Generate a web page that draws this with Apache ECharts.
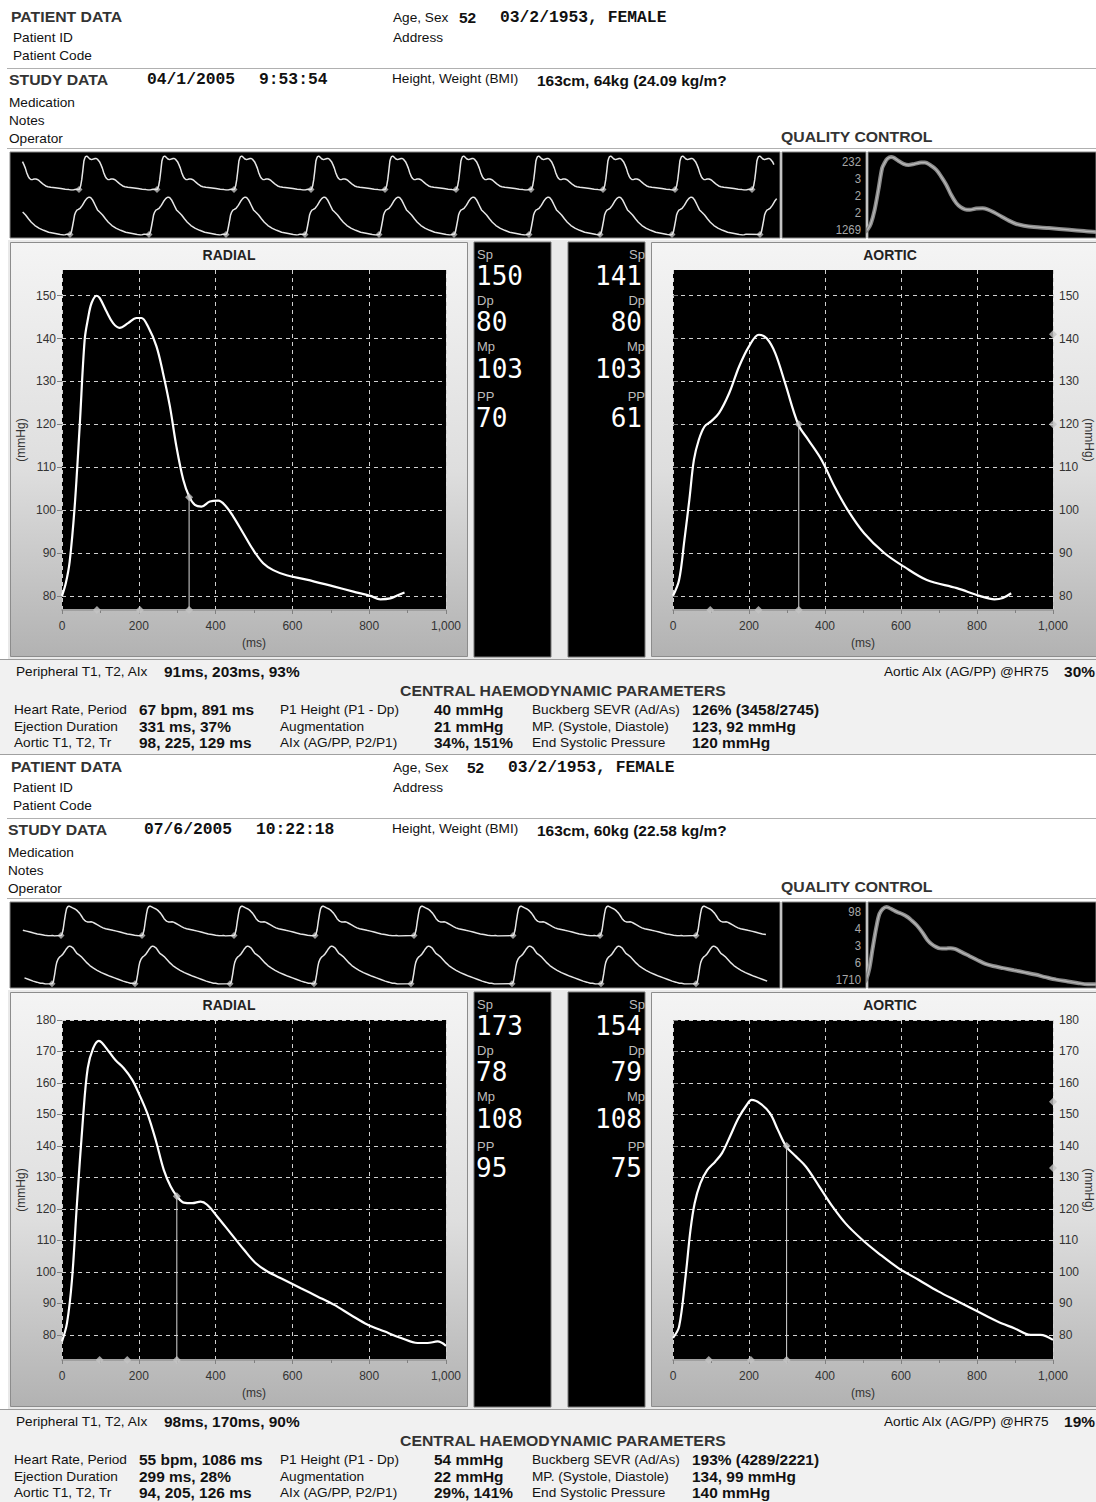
<!DOCTYPE html>
<html><head><meta charset="utf-8">
<script src="https://cdn.jsdelivr.net/npm/echarts@6/dist/echarts.min.js"></script>
<style>html,body{margin:0;padding:0;background:#fff}#c{width:1096px;height:1502px}</style>
</head><body><div id="c"></div><script>
// ---------- DATA ----------
const radial1X = [0,10,20,33,46,59,68,77,90,98,116,133,150,172,194,207,224,246,263,281,298,316,331,346,363,385,407,424,446,472,498,524,550,585,637,707,759,803,829,855,876,892];
const radial1Y = [80,83,88,100.8,119.5,139.7,144.8,148.3,150,149.5,146.3,143.6,142.5,143.6,144.8,144.8,142.8,138.2,132,124.2,114.8,107,103.2,101.2,100.8,102,102.2,101.2,98.5,94.6,90.7,87.6,86,84.8,83.8,82.2,81,80,79.2,79.4,80.2,80.8];
const aortic1X = [0,16,30,43,55,68,83,100,121,148,174,200,226,247,269,295,330,356,391,425,460,503,556,608,668,747,807,846,868,890];
const aortic1Y = [80,83.7,93,102.4,111.7,116.4,119.5,120.7,122.6,127.3,133.5,138.2,140.9,140,136.6,129.6,119.9,116.4,111.7,105.5,100,94.6,90,86.8,83.7,81.8,80,79.2,79.5,80.6];
const radial2X = [0,13,26,39,55,67,81,96,104,122,139,161,183,200,222,244,265,283,300,317,339,361,378,404,439,474,504,535,578,622,665,709,752,796,839,883,926,952,978,1000];
const radial2Y = [77.9,83.7,97.5,121.8,149.3,164.7,171,173.4,172.8,170,167.3,164.7,161,156.7,150.4,141.9,132.4,127.1,123.9,122,121.8,122.3,121.3,117.6,112.3,107,102.8,100.1,97.5,94.8,92.2,89.5,86.3,83.2,81.1,79,77.4,77.4,77.9,76.5];
const aortic2X = [0,16,33,46,57,72,90,111,129,150,172,194,207,229,255,276,298,324,350,385,420,454,498,541,593,646,698,750,802,854,898,941,967,1000];
const aortic2Y = [79,82.6,98.5,113.3,121.8,128.1,132.3,135,137.7,143,148.8,153,154.6,153.5,150.4,145.1,139.8,136.6,133.4,127.1,120.7,115.4,110.2,105.9,101.2,97.5,93.8,90.6,87.4,84.2,82.1,80,80,78.4];

// time markers (ms): T1, T2, ejection duration
const radial1Marks = [91, 203, 331];
const aortic1Marks = [98, 225, 331];
const radial2Marks = [98, 170, 299];
const aortic2Marks = [94, 205, 299];
// pressure at end of ejection on each curve
const radial1Ed = 103, aortic1Ed = 120, radial2Ed = 124, aortic2Ed = 140;
// aortic Sp and P1 markers on right axis
const aortic1Side = [141, 120];
const aortic2Side = [154, 133];
// y tick labels
const yTicks1 = [80, 90, 100, 110, 120, 130, 140, 150];
const yTicks2 = [80, 90, 100, 110, 120, 130, 140, 150, 160, 170, 180];

// beat onsets in the pulse strips (ms)
const strip1RadialOnsets = [-96, 828, 1764, 2688, 3612, 4500, 5352, 6252, 7116, 7980, 8904];
const strip1AorticOnsets = [-204, 720, 1668, 2592, 3540, 4428, 5328, 6228, 7080, 7944, 9000];
const strip2RadialOnsets = [-468, 612, 1584, 2688, 3660, 4848, 6036, 7080, 8232];
const strip2AorticOnsets = [-576, 504, 1500, 2640, 3648, 4812, 6024, 7092, 8232];

// numbers panels
const radial1Nums = ['150', '80', '103', '70'];
const aortic1Nums = ['141', '80', '103', '61'];
const radial2Nums = ['173', '78', '108', '95'];
const aortic2Nums = ['154', '79', '108', '75'];
const qc1Labels = ['232', '3', '2', '2', '1269'];
const qc2Labels = ['98', '4', '3', '6', '1710'];

// ---------- FONTS ----------
const F_SANS = '"Liberation Sans", Arial, sans-serif';
const F_MONO = '"Liberation Mono", "Courier New", monospace';
const F_NUM = '"DejaVu Sans Mono", monospace';

const zip = (xs, ys) => xs.map((x, i) => [x, ys[i]]);

const grids = [], xAxes = [], yAxes = [], series = [], gfx = [];
function addGrid(g, xa, ya) {
  grids.push(g);
  const i = grids.length - 1;
  xa.gridIndex = i; ya.gridIndex = i;
  xAxes.push(xa); yAxes.push(ya);
  return i;
}
const dash = { color: '#d0d0d0', type: [4, 4], width: 1 };

function mainPanel(left, top, yMin, yMax, yTicks, side, xs, ys, marks, edVal, sideMarks) {
  const idx = addGrid(
    { left: left, top: top, width: 384, height: 340, show: true, backgroundColor: '#000', borderWidth: 0 },
    { type: 'value', min: 0, max: 1000, interval: 200,
      name: '(ms)', nameLocation: 'middle', nameGap: 27,
      nameTextStyle: { color: '#333', fontSize: 12, fontFamily: F_SANS },
      axisLine: { show: true, onZero: false, lineStyle: { color: '#a0a0a0', width: 2 } },
      axisTick: { show: true, length: 4, lineStyle: { color: '#808080' } },
      minorTick: { show: true, splitNumber: 2, length: 3, lineStyle: { color: '#808080' } },
      axisLabel: { color: '#333', fontSize: 12, fontFamily: F_SANS, margin: 10,
        formatter: v => v.toLocaleString('en-US') },
      splitLine: { show: true, lineStyle: dash } },
    { type: 'value', min: yMin, max: yMax, position: side,
      name: '(mmHg)', nameLocation: 'middle', nameGap: side === 'left' ? 35 : 30,
      nameRotate: side === 'left' ? 90 : -90,
      nameTextStyle: { color: '#333', fontSize: 12, fontFamily: F_SANS },
      axisLine: { show: false },
      axisTick: { show: true, length: 5, customValues: yTicks, lineStyle: { color: '#808080' } },
      axisLabel: { customValues: yTicks, color: '#333', fontSize: 12, fontFamily: F_SANS, margin: 6 },
      splitLine: { show: true, lineStyle: dash } }
  );
  series.push({ type: 'line', xAxisIndex: idx, yAxisIndex: idx, data: zip(xs, ys),
    smooth: 0.35, symbol: 'none', lineStyle: { color: '#fff', width: 2.2 }, silent: true, z: 3 });
  const ed = marks[2];
  series.push({ type: 'line', xAxisIndex: idx, yAxisIndex: idx, data: [[ed, edVal], [ed, yMin]],
    symbol: 'none', lineStyle: { color: '#d8d8d8', width: 1 }, silent: true, z: 2 });
  const pts = marks.map(m => [m, yMin]).concat([[ed, edVal]]);
  if (sideMarks) sideMarks.forEach(v => pts.push([1000, v]));
  series.push({ type: 'scatter', xAxisIndex: idx, yAxisIndex: idx, data: pts, clip: false,
    symbol: 'diamond', symbolSize: 8, itemStyle: { color: '#c4c4c4' }, silent: true, z: 4 });
}

function stripRow(top, height, xs, ys, onsets, tStart, tEnd) {
  const idx = addGrid(
    { left: 10, top: top, width: 770, height: height },
    { type: 'value', min: 0, max: 9240, show: false },
    { type: 'value', min: 'dataMin', max: 'dataMax', show: false, scale: true }
  );
  const pts = [];
  onsets.forEach((o, k) => {
    const next = k + 1 < onsets.length ? onsets[k + 1] : Infinity;
    for (let i = 0; i < xs.length; i++) {
      const t = o + xs[i];
      if (t >= next) break;
      if (t < tStart || t > tEnd) continue;
      pts.push([t, ys[i]]);
    }
  });
  series.push({ type: 'line', xAxisIndex: idx, yAxisIndex: idx, data: pts, symbol: 'none',
    lineStyle: { color: '#e6e6e6', width: 1.5 }, silent: true });
  series.push({ type: 'scatter', xAxisIndex: idx, yAxisIndex: idx,
    data: onsets.filter(o => o >= tStart && o <= tEnd).map(o => [o, ys[0]]),
    symbol: 'diamond', symbolSize: 7, itemStyle: { color: '#bdbdbd' }, silent: true });
}

function qcBox(top, height, xMin, xMax, xs, ys) {
  const idx = addGrid(
    { left: 868, top: top, width: 228, height: height },
    { type: 'value', min: xMin, max: xMax, show: false },
    { type: 'value', min: 'dataMin', max: 'dataMax', show: false, scale: true }
  );
  series.push({ type: 'line', xAxisIndex: idx, yAxisIndex: idx, data: zip(xs, ys), smooth: 0.3,
    symbol: 'none', lineStyle: { color: '#8a8a8a', width: 4 }, silent: true });
  series.push({ type: 'line', xAxisIndex: idx, yAxisIndex: idx, data: zip(xs, ys), smooth: 0.3,
    symbol: 'none', lineStyle: { color: '#b8b8b8', width: 1.2 }, silent: true });
}

// ---------- GRAPHICS ----------
function R(x, y, w, h, fill, stroke) {
  gfx.push({ type: 'rect', z: -5, silent: true, shape: { x: x, y: y, width: w, height: h },
    style: { fill: fill, stroke: stroke || null, lineWidth: stroke ? 1 : 0 } });
}
function L(x1, y1, x2, y2, c, w) {
  gfx.push({ type: 'line', z: -4, silent: true, shape: { x1: x1, y1: y1, x2: x2, y2: y2 },
    style: { stroke: c, lineWidth: w || 1 } });
}
// font, colour, horizontal scale
const KIND = {
  h: ['bold 14.5px ' + F_SANS, '#333', 1.09],
  l: ['13px ' + F_SANS, '#111', 1.05],
  b: ['bold 15px ' + F_SANS, '#111', 1.03],
  m: ['bold 16px ' + F_MONO, '#111', 1.02],
  n: ['26px ' + F_NUM, '#fff', 1],
  s: ['13px ' + F_SANS, '#bcbcbc', 1],
  q: ['12px ' + F_SANS, '#a8a8a8', 0.95],
  t: ['bold 14px ' + F_SANS, '#222', 1]
};
function T(x, y, text, kind, align) {
  gfx.push({ type: 'text', z: 10, silent: true, x: x, y: y, scaleX: KIND[kind][2],
    style: { text: text, font: KIND[kind][0], fill: KIND[kind][1], align: align || 'left', verticalAlign: 'middle' } });
}
function panelGrad() {
  return new echarts.graphic.LinearGradient(0, 0, 0, 1, [
    { offset: 0, color: '#f4f4f4' }, { offset: 0.55, color: '#dedede' }, { offset: 1, color: '#b2b2b2' }]);
}

function study(o, s) {
  // header
  T(11, 17 + o, 'PATIENT DATA', 'h');
  T(13, 38 + o, 'Patient ID', 'l');
  T(13, 56 + o, 'Patient Code', 'l');
  T(393, 18 + o, 'Age, Sex', 'l');
  T(s.ageX, 18 + o, '52', 'b');
  T(s.dobX, 18 + o, '03/2/1953, FEMALE', 'm');
  T(393, 38 + o, 'Address', 'l');
  L(7, 68.5 + o, 1096, 68.5 + o, '#b0b0b0', 1);
  T(s.sdX, 80 + o, 'STUDY DATA', 'h');
  T(s.dateX, 80 + o, s.date, 'm');
  T(s.timeX, 80 + o, s.time, 'm');
  T(392, 79 + o, 'Height, Weight (BMI)', 'l');
  T(537, 81 + o, s.hw, 'b');
  T(s.sdX, 103 + o, 'Medication', 'l');
  T(s.sdX, 121 + o, 'Notes', 'l');
  T(s.sdX, 139 + o, 'Operator', 'l');
  T(781, 137 + o, 'QUALITY CONTROL', 'h');
  L(7, 148.5 + o, 1096, 148.5 + o, '#b0b0b0', 1);
  // strip and QC boxes
  R(10, 152 + o, 770, 86, '#000', '#888');
  R(782, 152 + o, 84, 86, '#000', '#888');
  R(868, 152 + o, 228, 86, '#000', '#888');
  s.qc.forEach((q, i) => T(861, 161 + i * 17 + o, q, 'q', 'right'));
  // panels
  R(8, 240 + o, 1088, 420, '#e9e9e9');
  R(10.5, 242.5 + o, 457, 414, panelGrad(), '#8c8c8c');
  R(651.5, 242.5 + o, 446, 414, panelGrad(), '#8c8c8c');
  R(474, 242 + o, 77, 415, '#000', '#777');
  R(568, 242 + o, 77, 415, '#000', '#777');
  T(229, 255 + o, 'RADIAL', 't', 'center');
  T(890, 255 + o, 'AORTIC', 't', 'center');
  const lab = ['Sp', 'Dp', 'Mp', 'PP'];
  const labY = [254, 300, 346, 396], numY = [276, 322, 369, 418];
  lab.forEach((t, i) => {
    T(477, labY[i] + o, t, 's');
    T(476, numY[i] + o, s.rn[i], 'n');
    T(645, labY[i] + o, t, 's', 'right');
    T(642, numY[i] + o, s.an[i], 'n', 'right');
  });
  // parameters
  R(0, 660 + o, 1096, 95, '#f1f1f1');
  L(0, 659.5 + o, 1096, 659.5 + o, '#9a9a9a', 1);
  L(0, 754.5 + o, 1096, 754.5 + o, '#a0a0a0', 1);
  T(16, 672 + o, 'Peripheral T1, T2, AIx', 'l');
  T(164, 672 + o, s.per, 'b');
  T(884, 672 + o, 'Aortic AIx (AG/PP) @HR75', 'l');
  T(1095, 672 + o, s.aix, 'b', 'right');
  T(400, 691 + o, 'CENTRAL HAEMODYNAMIC PARAMETERS', 'h');
  const colX = [14, 139, 280, 434, 532, 692];
  const rowY = [710, 727, 743];
  s.params.forEach((row, r) => row.forEach((t, c) =>
    T(colX[c], rowY[r] + o, t, c % 2 ? 'b' : 'l')));
}

study(0, {
  ageX: 459, dobX: 500, sdX: 9, dateX: 147, timeX: 259,
  date: '04/1/2005', time: '9:53:54', hw: '163cm, 64kg (24.09 kg/m?',
  qc: qc1Labels, rn: radial1Nums, an: aortic1Nums,
  per: '91ms, 203ms, 93%', aix: '30%',
  params: [
    ['Heart Rate, Period', '67 bpm, 891 ms', 'P1 Height (P1 - Dp)', '40 mmHg', 'Buckberg SEVR (Ad/As)', '126% (3458/2745)'],
    ['Ejection Duration', '331 ms, 37%', 'Augmentation', '21 mmHg', 'MP. (Systole, Diastole)', '123, 92 mmHg'],
    ['Aortic T1, T2, Tr', '98, 225, 129 ms', 'AIx (AG/PP, P2/P1)', '34%, 151%', 'End Systolic Pressure', '120 mmHg']]
});
study(750, {
  ageX: 467, dobX: 508, sdX: 8, dateX: 144, timeX: 256,
  date: '07/6/2005', time: '10:22:18', hw: '163cm, 60kg (22.58 kg/m?',
  qc: qc2Labels, rn: radial2Nums, an: aortic2Nums,
  per: '98ms, 170ms, 90%', aix: '19%',
  params: [
    ['Heart Rate, Period', '55 bpm, 1086 ms', 'P1 Height (P1 - Dp)', '54 mmHg', 'Buckberg SEVR (Ad/As)', '193% (4289/2221)'],
    ['Ejection Duration', '299 ms, 28%', 'Augmentation', '22 mmHg', 'MP. (Systole, Diastole)', '134, 99 mmHg'],
    ['Aortic T1, T2, Tr', '94, 205, 126 ms', 'AIx (AG/PP, P2/P1)', '29%, 141%', 'End Systolic Pressure', '140 mmHg']]
});

// ---------- CHART GRIDS ----------
mainPanel(62, 270, 76.7, 156, yTicks1, 'left', radial1X, radial1Y, radial1Marks, radial1Ed, null);
mainPanel(673, 270, 76.7, 156, yTicks1, 'right', aortic1X, aortic1Y, aortic1Marks, aortic1Ed, aortic1Side);
stripRow(156, 34, radial1X, radial1Y, strip1RadialOnsets, 144, 9180);
stripRow(197, 38, aortic1X, aortic1Y, strip1AorticOnsets, 144, 9216);
qcBox(157, 76, 10, 800, radial1X, radial1Y);

mainPanel(62, 1020, 72, 180, yTicks2, 'left', radial2X, radial2Y, radial2Marks, radial2Ed, null);
mainPanel(673, 1020, 72, 180, yTicks2, 'right', aortic2X, aortic2Y, aortic2Marks, aortic2Ed, aortic2Side);
stripRow(906, 30, radial2X, radial2Y, strip2RadialOnsets, 132, 9096);
stripRow(946, 38, aortic2X, aortic2Y, strip2AorticOnsets, 132, 9096);
qcBox(907, 78, 20, 960, radial2X, radial2Y);

const chart = echarts.init(document.getElementById('c'), null, { renderer: 'svg' });
chart.setOption({
  animation: false,
  backgroundColor: '#fff',
  grid: grids, xAxis: xAxes, yAxis: yAxes, series: series,
  graphic: { elements: gfx }
});
</script></body></html>
